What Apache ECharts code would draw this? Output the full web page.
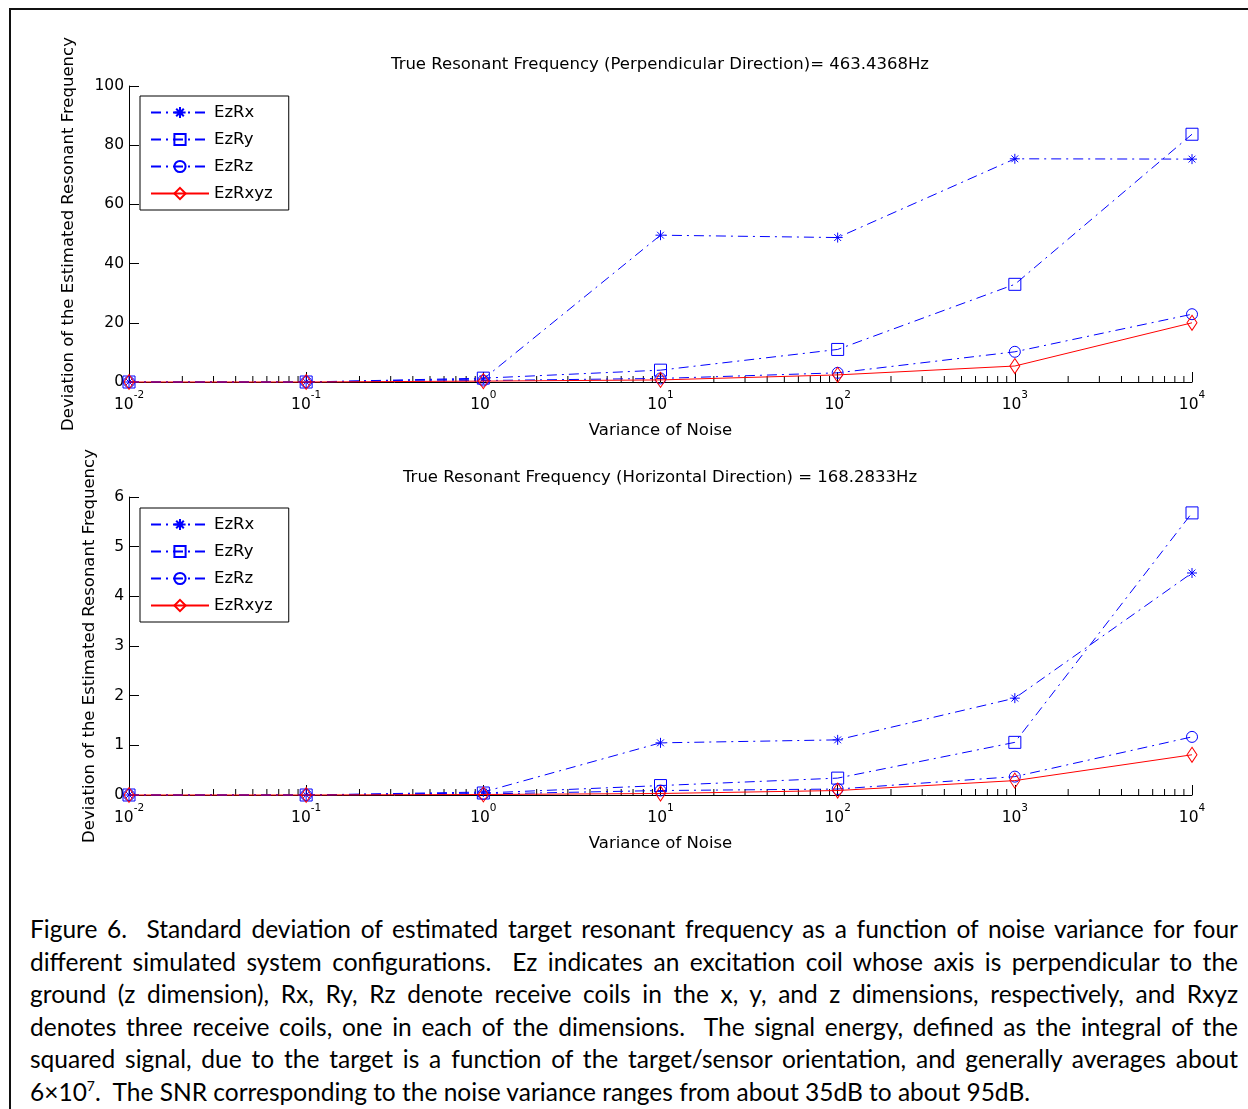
<!DOCTYPE html>
<html>
<head>
<meta charset="utf-8">
<script src="https://cdn.jsdelivr.net/npm/echarts@6/dist/echarts.min.js"></script>
<style>
  html, body { margin: 0; padding: 0; background: #fff; }
  #wrap { position: relative; width: 1248px; height: 1109px; overflow: hidden; background: #fff; }
  #chart { position: absolute; left: 0; top: 0; width: 1248px; height: 880px; }
  #frame { position: absolute; left: 9px; top: 8px; right: -10px; bottom: -10px; border-top: 2px solid #111; border-left: 2px solid #111; }
  #caption { position: absolute; left: 30px; top: 913px; width: 1208px; font-family: Lato, "Open Sans", sans-serif; font-size: 24.5px; line-height: 32.5px; color: #000; }
  #caption .j { text-align: justify; text-align-last: justify; white-space: nowrap; }
  #caption .l { text-align: left; white-space: nowrap; }
  #caption sup { font-size: 14px; line-height: 0; vertical-align: 10px; }
</style>
</head>
<body>
<div id="wrap">
  <div id="frame"></div>
  <div id="chart"></div>
  <div id="caption">
    <div class="j">Figure 6.&nbsp; Standard deviation of estimated target resonant frequency as a function of noise variance for four</div>
    <div class="j">different simulated system configurations.&nbsp; Ez indicates an excitation coil whose axis is perpendicular to the</div>
    <div class="j">ground (z dimension), Rx, Ry, Rz denote receive coils in the x, y, and z dimensions, respectively, and Rxyz</div>
    <div class="j">denotes three receive coils, one in each of the dimensions.&nbsp; The signal energy, defined as the integral of the</div>
    <div class="j">squared signal, due to the target is a function of the target/sensor orientation, and generally averages about</div>
    <div class="l">6×10<sup>7</sup>.&nbsp; The SNR corresponding to the noise variance ranges from about 35dB to about 95dB.</div>
  </div>
</div>
<script>
// ---- data ----
const noiseVar = [0.01, 0.1, 1, 10, 100, 1000, 10000];
const seriesNames = ['EzRx', 'EzRy', 'EzRz', 'EzRxyz'];
// Perpendicular direction (top panel)
const perpRx   = [0, 0, 1.0, 49.6, 48.8, 75.4, 75.3];
const perpRy   = [0, 0, 1.3, 4.0, 11.0, 33.0, 83.7];
const perpRz   = [0, 0, 0.5, 1.2, 3.1, 10.2, 22.9];
const perpRxyz = [0, 0, 0.3, 0.7, 2.4, 5.4, 20.0];
// Horizontal direction (bottom panel)
const horRx   = [0, 0, 0.06, 1.05, 1.11, 1.95, 4.47];
const horRy   = [0, 0, 0.04, 0.19, 0.34, 1.06, 5.68];
const horRz   = [0, 0, 0.02, 0.09, 0.12, 0.37, 1.17];
const horRxyz = [0, 0, 0.01, 0.03, 0.09, 0.29, 0.81];
// axis ticks
const decades = [-2, -1, 0, 1, 2, 3];
const minorMultipliers = [2, 3, 4, 5, 6, 7, 8, 9];
const topYTicks = {min: 0, max: 100, interval: 20};
const botYTicks = {min: 0, max: 6, interval: 1};
const topTitle = 'True Resonant Frequency (Perpendicular Direction)= 463.4368Hz';
const botTitle = 'True Resonant Frequency (Horizontal Direction) = 168.2833Hz';
const yName = 'Deviation of the Estimated Resonant Frequency';
const xName = 'Variance of Noise';

// ---- build ----
const BLUE = '#0000ff', RED = '#ff0000';
const FONT = 'DejaVu Sans';
const dashDot = [10, 5, 2, 5];
const asterisk = 'path://M5,0L5,10M0,5L10,5M1.6,1.6L8.4,8.4M1.6,8.4L8.4,1.6';
const styles = [
  {symbol: asterisk, size: 10, color: BLUE, type: dashDot},
  {symbol: 'rect', size: 12, color: BLUE, type: dashDot},
  {symbol: 'circle', size: 11, color: BLUE, type: dashDot},
  {symbol: 'diamond', size: [10, 15], color: RED, type: 'solid'}
];
const minorVals = [];
decades.forEach(d => minorMultipliers.forEach(m => minorVals.push(m * Math.pow(10, d))));

function pairs(arr) { return noiseVar.map((x, i) => [x, arr[i]]); }

function mkSeries(arrs, gi) {
  const out = arrs.map((arr, k) => ({
    name: seriesNames[k], type: 'line', xAxisIndex: gi, yAxisIndex: gi,
    data: pairs(arr), symbol: styles[k].symbol, symbolSize: styles[k].size,
    showAllSymbol: true, clip: false, animation: false, z: 3 + k,
    lineStyle: {color: styles[k].color, width: 1, type: styles[k].type},
    itemStyle: {color: 'rgba(0,0,0,0)', borderColor: styles[k].color, borderWidth: 1},
    emphasis: {disabled: true}
  }));
  out.push({
    type: 'custom', xAxisIndex: gi, yAxisIndex: gi, silent: true, animation: false, clip: false, z: 2,
    data: minorVals.map(v => [v, 0]),
    renderItem: function (params, api) {
      const p = api.coord([api.value(0), 0]);
      return {type: 'line', shape: {x1: p[0], y1: p[1], x2: p[0], y2: p[1] - 6}, style: {stroke: '#000', lineWidth: 1}};
    }
  });
  return out;
}

function xAxis(gi) {
  return {
    type: 'log', logBase: 10, min: 0.01, max: 10000, gridIndex: gi,
    name: xName, nameLocation: 'middle', nameGap: 40,
    nameTextStyle: {fontFamily: FONT, fontSize: 16.5, color: '#000'},
    axisLine: {lineStyle: {color: '#000', width: 1}},
    axisTick: {inside: true, length: 10, lineStyle: {color: '#000'}},
    splitLine: {show: false},
    axisLabel: {
      margin: 8, color: '#000', fontFamily: FONT,
      formatter: v => '{b|10}{s|' + Math.round(Math.log10(v)) + '}',
      rich: {
        b: {fontFamily: FONT, fontSize: 15.5, color: '#000', padding: [7, 0, 0, 0]},
        s: {fontFamily: FONT, fontSize: 10.5, color: '#000', verticalAlign: 'top'}
      }
    }
  };
}
function yAxis(gi, t, gap) {
  return {
    type: 'value', gridIndex: gi, min: t.min, max: t.max, interval: t.interval,
    name: yName, nameLocation: 'middle', nameRotate: 90, nameGap: gap,
    nameTextStyle: {fontFamily: FONT, fontSize: 16.5, color: '#000'},
    axisLine: {show: true, lineStyle: {color: '#000', width: 1}},
    axisTick: {show: true, inside: true, length: 10, lineStyle: {color: '#000'}},
    splitLine: {show: false},
    axisLabel: {margin: 5, color: '#000', fontFamily: FONT, fontSize: 15.5}
  };
}
function legend(top) {
  return {
    data: seriesNames, orient: 'vertical', left: 140, top: top,
    backgroundColor: '#fff', borderColor: '#000', borderWidth: 1,
    padding: [8, 16, 8, 10], itemWidth: 58, itemHeight: 14, itemGap: 10,
    textStyle: {fontFamily: FONT, fontSize: 16.5, color: '#000'},
    selectedMode: false
  };
}

const chart = echarts.init(document.getElementById('chart'), null, {renderer: 'canvas'});
chart.setOption({
  animation: false,
  grid: [
    {left: 129, top: 86, width: 1063, height: 296},
    {left: 129, top: 497, width: 1063, height: 298}
  ],
  xAxis: [xAxis(0), xAxis(1)],
  yAxis: [yAxis(0, topYTicks, 52), yAxis(1, botYTicks, 31)],
  legend: [legend(96), legend(508)],
  graphic: [
    {type: 'text', x: 660, y: 65, style: {text: topTitle, fontFamily: FONT, fontSize: 16.5, fill: '#000', align: 'center', verticalAlign: 'middle'}},
    {type: 'text', x: 660, y: 478, style: {text: botTitle, fontFamily: FONT, fontSize: 16.5, fill: '#000', align: 'center', verticalAlign: 'middle'}}
  ],
  series: mkSeries([perpRx, perpRy, perpRz, perpRxyz], 0).concat(mkSeries([horRx, horRy, horRz, horRxyz], 1))
});
</script>
</body>
</html>
